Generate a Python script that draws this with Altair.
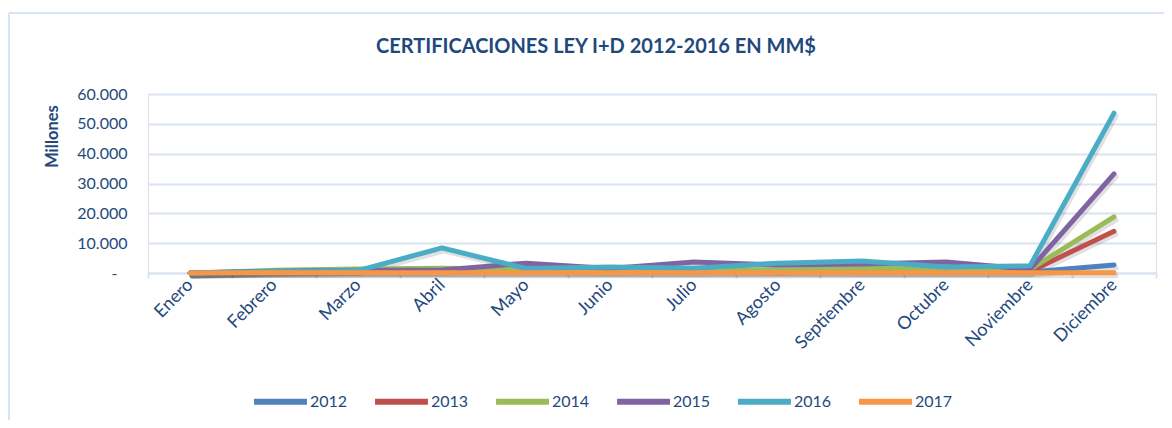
import altair as alt
import pandas as pd

months = ["Enero", "Febrero", "Marzo", "Abril", "Mayo", "Junio", "Julio",
          "Agosto", "Septiembre", "Octubre", "Noviembre", "Diciembre"]
years = ["2012", "2013", "2014", "2015", "2016", "2017"]
colors = ["#4F81BD", "#C0504D", "#9BBB59", "#8064A2", "#4BACC6", "#F79646"]

v2012 = [0, 200, 300, 300, 300, 300, 300, 300, 300, 300, 300, 2700]
v2013 = [0, 300, 400, 500, 600, 500, 500, 700, 500, 500, 500, 14000]
v2014 = [0, 900, 1300, 1600, 1300, 1000, 1400, 900, 1700, 1300, 1200, 18800]
v2015 = [0, 600, 900, 1000, 3300, 1500, 3700, 2700, 3000, 3700, 1200, 33200]
v2016 = [0, 500, 800, 8400, 1500, 2000, 1600, 3300, 4000, 2000, 2400, 53600]
v2017 = [0, 100, 100, 100, 100, 100, 100, 100, 100, 100, 100, 100]

y_ticks = [0, 10000, 20000, 30000, 40000, 50000, 60000]

series = [v2012, v2013, v2014, v2015, v2016, v2017]
rows = []
for yi, (yr, vals) in enumerate(zip(years, series)):
    for mi, (m, v) in enumerate(zip(months, vals)):
        rows.append({"Mes": m, "Año": yr, "Valor": v, "orden": yi})
df = pd.DataFrame(rows)

TXT = "#1F497D"
GRID = "#D9E4F3"
FONT = "Lato"

x_enc = alt.X("Mes:N", sort=months, bandPosition=0.5,
              scale=alt.Scale(type="band", paddingInner=0, paddingOuter=0),
              axis=alt.Axis(title=None, labelAngle=315, labelAlign="right",
                            labelBaseline="middle", labelFont=FONT,
                            labelFontSize=18, labelColor=TXT, labelPadding=4,
                            tickBand="extent", tickColor=GRID, tickWidth=2,
                            tickSize=5, domainColor=GRID, domainWidth=2,
                            grid=False))
y_enc = alt.Y("Valor:Q", scale=alt.Scale(domain=[0, 60000], nice=False),
              axis=alt.Axis(title="Millones", values=y_ticks,
                            labelExpr="datum.value == 0 ? '-' : replace(format(datum.value, ',.0f'), ',', '.')",
                            labelFont=FONT, labelFontSize=16, labelColor=TXT,
                            labelPadding={"condition": {"test": "datum.value === 0", "value": 31}, "value": 21},
                            ticks=False, domain=False,
                            gridColor=GRID, gridWidth=2,
                            titleFont=FONT, titleFontSize=16.5,
                            titleFontWeight="bold", titleColor=TXT,
                            titleX=-96, titleY=42, titleAngle=270,
                            titleAlign="center", titleBaseline="middle"))

shadow = alt.Chart(df).mark_line(strokeWidth=5, color="#000000", opacity=0.12,
                                 xOffset=2, yOffset=3, strokeCap="round",
                                 strokeJoin="round").encode(
    x=x_enc, y=y_enc, detail="Año:N", order="orden:Q")

lines = alt.Chart(df).mark_line(strokeWidth=5, strokeCap="round",
                                strokeJoin="round").encode(
    x=x_enc, y=y_enc,
    color=alt.Color("Año:N", scale=alt.Scale(domain=years, range=colors),
                    legend=alt.Legend(title=None, orient="none",
                                      direction="horizontal",
                                      legendX=103, legendY=278,
                                      symbolType="stroke", symbolSize=2800,
                                      symbolStrokeWidth=6,
                                      labelFont=FONT, labelFontSize=16,
                                      labelColor=TXT, labelOffset=0,
                                      columnPadding=15)),
)

frame_top = alt.Chart(df).mark_rule(color=GRID, strokeWidth=2).encode(
    x=alt.value(-139), x2=alt.value(1016), y=alt.value(-81))
frame_left = alt.Chart(df).mark_rule(color=GRID, strokeWidth=2).encode(
    x=alt.value(-139), y=alt.value(-81), y2=alt.value(326))

chart = alt.layer(frame_top, frame_left, shadow, lines).properties(
    width=1008, height=179,
    padding={"left": 140, "top": 86, "right": 8, "bottom": 147},
    autosize=alt.AutoSizeParams(type="none"),
    title=alt.TitleParams("CERTIFICACIONES LEY I+D 2012-2016 EN MM$",
                          font=FONT, fontSize=20, fontWeight="bold",
                          color=TXT, anchor="middle", baseline="bottom",
                          offset=0, dx=-56, dy=65),
).configure_view(stroke=None).configure(background="white")

chart.save("out.html", embed_options={"renderer": "svg", "actions": False})
